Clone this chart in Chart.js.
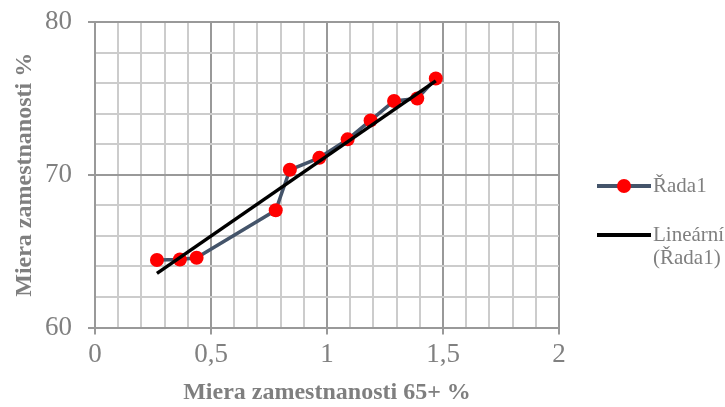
<!DOCTYPE html>
<html><head><meta charset="utf-8">
<script src="https://cdn.jsdelivr.net/npm/chart.js@4/dist/chart.umd.min.js"></script>
<style>
html,body{margin:0;padding:0;background:#fff;}
#wrap{position:relative;width:725px;height:407px;}
#legend{position:absolute;left:597px;top:0;font-family:"Liberation Serif","Times New Roman",serif;font-size:21px;color:#7f7f7f;}
.item{position:absolute;left:0;white-space:nowrap;}
.sw{position:absolute;left:0;width:54px;height:0;}
.lbl{position:absolute;left:56px;line-height:23px;}
</style>
</head><body>
<div id="wrap">
<canvas id="c" width="725" height="407"></canvas>
<div id="legend">
  <div class="item" style="top:186px">
    <div class="sw" style="top:-2px;border-top:4px solid #44546a"></div>
    <div style="position:absolute;left:20px;top:-7px;width:14px;height:14px;border-radius:50%;background:#ff0000"></div>
    <div class="lbl" style="top:-12px">Řada1</div>
  </div>
  <div class="item" style="top:235px">
    <div class="sw" style="top:-2px;border-top:4px solid #000"></div>
    <div class="lbl" style="top:-12px">Lineární<br>(Řada1)</div>
  </div>
</div>
</div>
<script>
const xValues = [0.267, 0.366, 0.438, 0.779, 0.840, 0.967, 1.089, 1.188, 1.289, 1.389, 1.469];
const yValues = [64.42, 64.46, 64.57, 67.68, 70.33, 71.11, 72.32, 73.56, 74.83, 74.99, 76.30];
const trendX = [0.267, 1.469];
const trendY = [63.55, 76.15];
const seriesName = "Řada1";
const trendName = "Lineární (Řada1)";
const xTitle = "Miera zamestnanosti 65+ %";
const yTitle = "Miera zamestnanosti %";

const serif = "'Liberation Serif','Times New Roman',serif";
const isMajor = (v, step) => Math.abs(v / step - Math.round(v / step)) < 1e-6;

new Chart(document.getElementById('c'), {
  type: 'scatter',
  data: {
    datasets: [
      {
        label: trendName,
        data: trendX.map((x, i) => ({x, y: trendY[i]})),
        showLine: true, borderColor: '#000', borderWidth: 3.5,
        pointRadius: 0, order: 0
      },
      {
        label: seriesName,
        data: xValues.map((x, i) => ({x, y: yValues[i]})),
        showLine: true, borderColor: '#44546a', borderWidth: 3.5,
        pointRadius: 7, pointBackgroundColor: '#ff0000', pointBorderColor: '#ff0000',
        pointBorderWidth: 0, order: 1
      }
    ]
  },
  options: {
    responsive: false, animation: false,
    layout: {padding: {left: 0, right: 166, top: 22, bottom: 2}},
    plugins: {legend: {display: false}, tooltip: {enabled: false}},
    scales: {
      x: {
        type: 'linear', min: 0, max: 2,
        ticks: {
          stepSize: 0.1, autoSkip: false, maxRotation: 0, padding: 4,
          color: '#808080', font: {family: serif, size: 27},
          callback: v => isMajor(v, 0.5) ? String(Math.round(v * 10) / 10).replace('.', ',') : ''
        },
        grid: {
          color: c => isMajor(c.tick.value, 0.5) ? '#999999' : '#cccccc',
          tickColor: c => isMajor(c.tick.value, 0.5) ? '#999999' : 'rgba(0,0,0,0)',
          tickLength: 7, lineWidth: 2
        },
        border: {color: '#999999', width: 2},
        title: {display: true, text: xTitle, color: '#7f7f7f',
          font: {family: serif, size: 24, weight: 'bold', lineHeight: 1}, padding: {top: 6, bottom: 0}}
      },
      y: {
        type: 'linear', min: 60, max: 80,
        afterFit: s => { s.width = 95; s.paddingTop = 0; s.paddingBottom = 0; },
        ticks: {
          stepSize: 2, autoSkip: false, padding: 16,
          color: '#808080', font: {family: serif, size: 27},
          callback: v => isMajor(v, 10) ? String(v) : ''
        },
        grid: {
          color: c => isMajor(c.tick.value, 10) ? '#999999' : '#cccccc',
          tickColor: c => isMajor(c.tick.value, 10) ? '#999999' : 'rgba(0,0,0,0)',
          tickLength: 7, lineWidth: 2
        },
        border: {color: '#999999', width: 2},
        title: {display: true, text: yTitle, color: '#7f7f7f',
          font: {family: serif, size: 24, weight: 'bold'}, padding: {top: 10, bottom: 0}}
      }
    }
  }
});
</script>
</body></html>
